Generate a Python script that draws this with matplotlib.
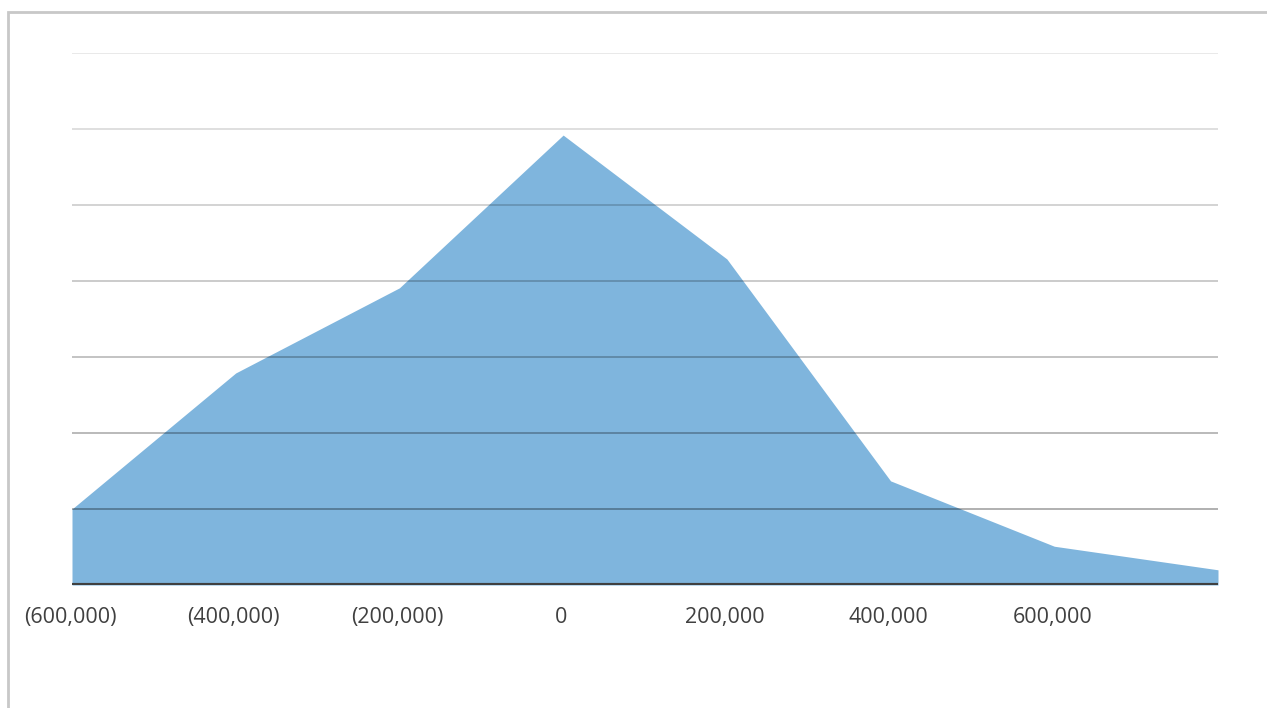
import matplotlib.pyplot as plt
import matplotlib.transforms as mtransforms
from matplotlib.patches import Rectangle

# data
x_vals = [-600000, -400000, -200000, 0, 200000, 400000, 600000, 800000]
y_vals = [1.0, 2.79, 3.91, 5.92, 4.29, 1.37, 0.51, 0.20]
tick_pos = [-600000, -400000, -200000, 0, 200000, 400000, 600000]
tick_labels = ['(600,000)', '(400,000)', '(200,000)', '0', '200,000', '400,000', '600,000']
grid_levels = [1, 2, 3, 4, 5, 6, 7]

plt.rcParams['font.family'] = ['Open Sans', 'DejaVu Sans']

W, H = 1267, 708
fig = plt.figure(figsize=(W / 100, H / 100), dpi=100)
ax = fig.add_axes([72 / W, (H - 585) / H, (1218 - 72) / W, (585 - 53) / H])

ax.fill_between(x_vals, 0, y_vals, color='#7fb5dd', lw=0, zorder=1)

# gridlines: semi-transparent, fading towards the top
grid_alpha = [0.36, 0.32, 0.28, 0.24, 0.2, 0.15, 0.1]
for lvl, a in zip(grid_levels, grid_alpha):
    ax.axhline(lvl, color='black', lw=1.2, zorder=2, alpha=a)
ax.axhline(0, color='#404040', lw=3, zorder=3)

ax.set_xlim(x_vals[0], x_vals[-1])
ax.set_ylim(0, 7)
ax.set_xticks(tick_pos)
ax.set_xticklabels(tick_labels, fontsize=15.5, color='#404040')
ax.tick_params(axis='x', length=0, pad=16)
shift = mtransforms.ScaledTranslation(-2 / 100, 0, fig.dpi_scale_trans)
for lab in ax.get_xticklabels():
    lab.set_transform(lab.get_transform() + shift)
ax.set_yticks([])
for s in ax.spines.values():
    s.set_visible(False)

# outer chart border (only left and top visible in the picture)
fig.patches.append(Rectangle((8 / W, -0.1), 1.2, (H - 12) / H + 0.1,
                             transform=fig.transFigure, fill=False,
                             edgecolor='#c8c8c8', lw=2))

fig.savefig('out.png', dpi=100)
